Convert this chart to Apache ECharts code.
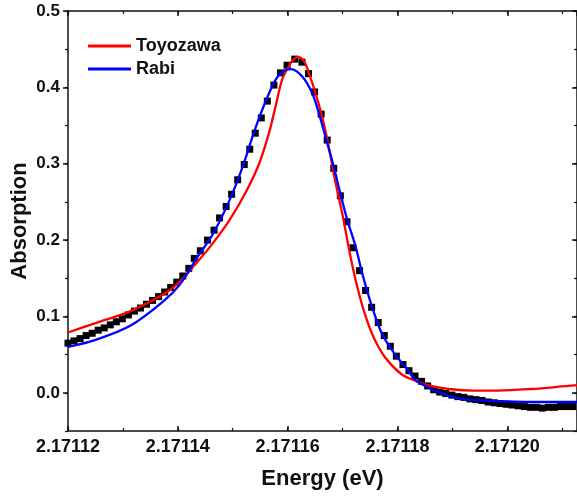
<!DOCTYPE html>
<html>
<head>
<meta charset="utf-8">
<script src="https://cdn.jsdelivr.net/npm/echarts@6/dist/echarts.min.js"></script>
<style>
  html, body { margin: 0; padding: 0; background: #fff; }
  #absorption-chart { width: 577px; height: 498px; }
</style>
</head>
<body>
<div id="absorption-chart"></div>
<script>
// measured spectrum (energy in eV, absorption)
const energyData = [
  2.1711200, 2.1711211, 2.1711222, 2.1711233, 2.1711244, 2.1711255, 2.1711266, 2.1711277,
  2.1711288, 2.1711299, 2.1711310, 2.1711321, 2.1711332, 2.1711343, 2.1711354, 2.1711365,
  2.1711376, 2.1711387, 2.1711398, 2.1711409, 2.1711420, 2.1711430, 2.1711441, 2.1711454,
  2.1711466, 2.1711476, 2.1711488, 2.1711498, 2.1711509, 2.1711521, 2.1711531, 2.1711541,
  2.1711552, 2.1711563, 2.1711575, 2.1711587, 2.1711599, 2.1711613, 2.1711626, 2.1711638,
  2.1711649, 2.1711661, 2.1711672, 2.1711684, 2.1711696, 2.1711708, 2.1711719, 2.1711731,
  2.1711742, 2.1711753, 2.1711765, 2.1711776, 2.1711787, 2.1711798, 2.1711810, 2.1711821,
  2.1711832, 2.1711844, 2.1711855, 2.1711866, 2.1711877, 2.1711888, 2.1711899, 2.1711910,
  2.1711921, 2.1711932, 2.1711943, 2.1711954, 2.1711965, 2.1711976, 2.1711987, 2.1711998,
  2.1712009, 2.1712020, 2.1712031, 2.1712042, 2.1712053, 2.1712064, 2.1712075, 2.1712086,
  2.1712097, 2.1712108, 2.1712119, 2.1712130
]
const absorptionData = [
  0.065, 0.068, 0.071, 0.075, 0.078, 0.082, 0.085, 0.089,
  0.093, 0.097, 0.102, 0.107, 0.111, 0.116, 0.121, 0.126,
  0.132, 0.138, 0.145, 0.153, 0.163, 0.176, 0.186, 0.200,
  0.213, 0.229, 0.244, 0.260, 0.279, 0.299, 0.319, 0.340,
  0.360, 0.382, 0.403, 0.419, 0.429, 0.437, 0.433, 0.418,
  0.394, 0.365, 0.331, 0.294, 0.258, 0.224, 0.190, 0.160,
  0.134, 0.112, 0.092, 0.075, 0.061, 0.048, 0.037, 0.029,
  0.022, 0.015, 0.009, 0.004, 0.001, -0.001, -0.003, -0.005,
  -0.006, -0.008, -0.009, -0.010, -0.012, -0.013, -0.014, -0.015,
  -0.016, -0.017, -0.018, -0.019, -0.019, -0.020, -0.019, -0.019,
  -0.018, -0.018, -0.018, -0.018
]

// Toyozawa fit
const toyozawaEnergy = [
  2.1711200, 2.1711253, 2.1711314, 2.1711374, 2.1711404, 2.1711435, 2.1711464, 2.1711494,
  2.1711524, 2.1711548, 2.1711566, 2.1711578, 2.1711590, 2.1711603, 2.1711609, 2.1711618,
  2.1711630, 2.1711639, 2.1711651, 2.1711663, 2.1711675, 2.1711684, 2.1711693, 2.1711702,
  2.1711711, 2.1711724, 2.1711739, 2.1711757, 2.1711778, 2.1711808, 2.1711832, 2.1711850,
  2.1711862, 2.1711893, 2.1711941, 2.1711983, 2.1712043, 2.1712122, 2.1712135
]
const toyozawaFit = [
  0.079, 0.092, 0.107, 0.129, 0.146, 0.171, 0.196, 0.226,
  0.263, 0.300, 0.340, 0.375, 0.410, 0.429, 0.435, 0.440,
  0.434, 0.418, 0.392, 0.361, 0.322, 0.287, 0.256, 0.226,
  0.191, 0.147, 0.107, 0.072, 0.046, 0.024, 0.016, 0.011,
  0.009, 0.005, 0.003, 0.003, 0.005, 0.0097, 0.010
]

// Rabi fit
const rabiEnergy = [
  2.1711200, 2.1711253, 2.1711314, 2.1711374, 2.1711404, 2.1711435, 2.1711464, 2.1711494,
  2.1711518, 2.1711542, 2.1711566, 2.1711584, 2.1711606, 2.1711627, 2.1711645, 2.1711657,
  2.1711669, 2.1711684, 2.1711696, 2.1711708, 2.1711724, 2.1711736, 2.1711754, 2.1711772,
  2.1711796, 2.1711820, 2.1711832, 2.1711862, 2.1711893, 2.1711923, 2.1711983, 2.1712043,
  2.1712135
]
const rabiFit = [
  0.060, 0.070, 0.088, 0.120, 0.142, 0.177, 0.208, 0.252,
  0.296, 0.348, 0.392, 0.416, 0.424, 0.414, 0.392, 0.366,
  0.335, 0.296, 0.261, 0.228, 0.191, 0.156, 0.112, 0.077,
  0.050, 0.029, 0.017, 0.005, -0.004, -0.0087, -0.011, -0.012,
  -0.012
]

const yMajorTicks = [0, 0.1, 0.2, 0.3, 0.4, 0.5]

const X_MIN = 2.17112
const X_MAX = 2.1712127
const Y_MIN = -0.05
const Y_MAX = 0.5

const font = 'Liberation Sans, Arial, sans-serif'
const zip = (xs, ys) => xs.map((x, i) => [x, ys[i]])

const chart = echarts.init(document.getElementById('absorption-chart'))

const frameLine = {onZero: false, lineStyle: {color: '#111', width: 1.5}}
const minorAxisBits = {
  axisLine: {show: false, onZero: false},
  axisLabel: {show: false},
  splitLine: {show: false}
}

chart.setOption({
  animation: false,
  grid: {
    left: 68,
    top: 11,
    right: 0,
    bottom: 67,
    outerBoundsMode: 'none'
  },
  legend: {
    orient: 'vertical',
    left: 88,
    top: 37,
    padding: 0,
    itemWidth: 43,
    itemHeight: 3,
    itemGap: 5,
    icon: 'rect',
    textStyle: {
      fontFamily: font,
      fontWeight: 'bold',
      fontSize: 18,
      lineHeight: 18,
      color: '#111'
    },
    data: ['Toyozawa', 'Rabi']
  },
  xAxis: [
    {
      type: 'value',
      position: 'bottom',
      min: X_MIN,
      max: X_MAX,
      interval: 0.00002,
      name: 'Energy (eV)',
      nameLocation: 'middle',
      nameGap: 37,
      nameMoveOverlap: false,
      nameTextStyle: {fontFamily: font, fontWeight: 'bold', fontSize: 22, color: '#111'},
      axisLine: frameLine,
      axisTick: {inside: true, length: 5, lineStyle: {color: '#111', width: 1.5}},
      axisLabel: {
        margin: 7,
        showMaxLabel: false,
        fontFamily: font,
        fontWeight: 'bold',
        fontSize: 18,
        color: '#111',
        formatter: (v) => v.toFixed(5)
      },
      splitLine: {show: false}
    },
    {
      type: 'value',
      position: 'top',
      min: X_MIN,
      max: X_MAX,
      interval: 0.00002,
      axisLine: frameLine,
      axisTick: {inside: true, length: 5, lineStyle: {color: '#111', width: 1.5}},
      axisLabel: {show: false},
      splitLine: {show: false}
    },
    // minor ticks
    {
      type: 'value',
      position: 'bottom',
      min: X_MIN,
      max: X_MAX,
      interval: 0.00001,
      axisTick: {inside: true, length: 3, lineStyle: {color: '#111', width: 1.2}},
      ...minorAxisBits
    },
    {
      type: 'value',
      position: 'top',
      min: X_MIN,
      max: X_MAX,
      interval: 0.00001,
      axisTick: {inside: true, length: 3, lineStyle: {color: '#111', width: 1.2}},
      ...minorAxisBits
    }
  ],
  yAxis: [
    {
      type: 'value',
      position: 'left',
      min: Y_MIN,
      max: Y_MAX,
      name: 'Absorption',
      nameLocation: 'middle',
      nameGap: 37,
      nameMoveOverlap: false,
      nameTextStyle: {fontFamily: font, fontWeight: 'bold', fontSize: 22, color: '#111'},
      axisLine: frameLine,
      axisTick: {customValues: yMajorTicks, length: 5, lineStyle: {color: '#111', width: 1.5}},
      axisLabel: {
        customValues: yMajorTicks,
        margin: 8,
        fontFamily: font,
        fontWeight: 'bold',
        fontSize: 17,
        color: '#111',
        formatter: (v) => v.toFixed(1)
      },
      splitLine: {show: false}
    },
    {
      type: 'value',
      position: 'right',
      min: Y_MIN,
      max: Y_MAX,
      axisLine: frameLine,
      axisTick: {customValues: yMajorTicks, inside: true, length: 5, lineStyle: {color: '#111', width: 1.5}},
      axisLabel: {show: false},
      splitLine: {show: false}
    },
    // minor ticks
    {
      type: 'value',
      position: 'left',
      min: Y_MIN,
      max: Y_MAX,
      interval: 0.05,
      axisTick: {length: 3, lineStyle: {color: '#111', width: 1.2}},
      ...minorAxisBits
    },
    {
      type: 'value',
      position: 'right',
      min: Y_MIN,
      max: Y_MAX,
      interval: 0.05,
      axisTick: {inside: true, length: 3, lineStyle: {color: '#111', width: 1.2}},
      ...minorAxisBits
    }
  ],
  series: [
    {
      name: 'Data',
      type: 'scatter',
      symbol: 'rect',
      symbolSize: 7,
      itemStyle: {color: '#000', opacity: 1},
      data: zip(energyData, absorptionData),
      z: 1
    },
    {
      name: 'Toyozawa',
      type: 'line',
      smooth: 0.35,
      showSymbol: false,
      itemStyle: {color: '#ff0000'},
      lineStyle: {color: '#ff0000', width: 2.3},
      data: zip(toyozawaEnergy, toyozawaFit),
      z: 3
    },
    {
      name: 'Rabi',
      type: 'line',
      smooth: 0.35,
      showSymbol: false,
      itemStyle: {color: '#0000ff'},
      lineStyle: {color: '#0000ff', width: 2.3},
      data: zip(rabiEnergy, rabiFit),
      z: 4
    }
  ]
})
</script>
</body>
</html>
